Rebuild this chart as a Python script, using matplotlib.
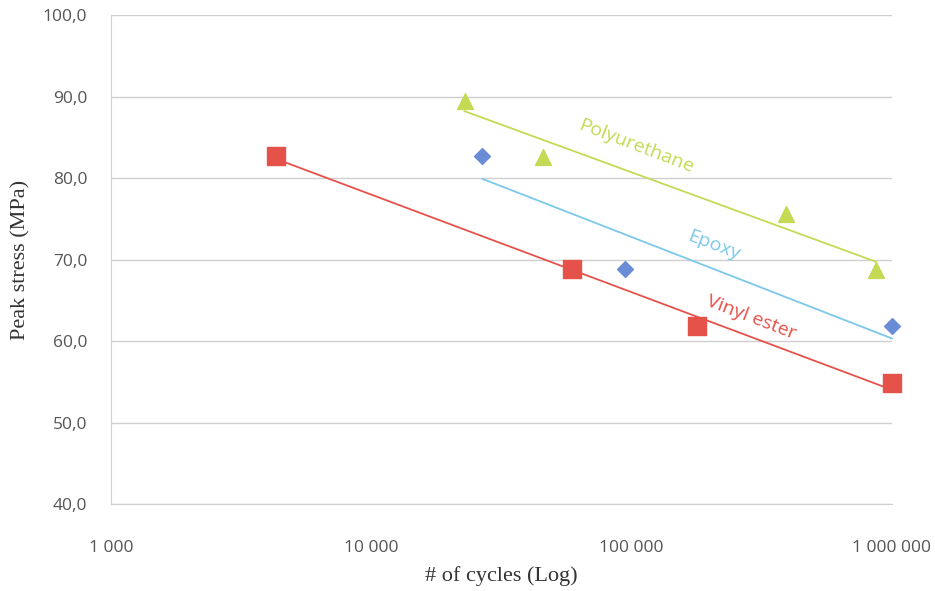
import numpy as np
import matplotlib
matplotlib.use("Agg")
import matplotlib.pyplot as plt
from matplotlib.ticker import FuncFormatter

# values
vinyl_cycles = [4300, 58800, 178000, 1000000]
vinyl_stress = [82.7, 68.8, 61.8, 54.8]

epoxy_cycles = [26700, 94000, 1000000]
epoxy_stress = [82.7, 68.8, 61.8]

pu_cycles = [22800, 45500, 391000, 867000]
pu_stress = [89.5, 82.6, 75.6, 68.7]

y_ticks = [40, 50, 60, 70, 80, 90, 100]
x_ticks = [1000, 10000, 100000, 1000000]

red = "#E5524A"
blue_marker = "#6A8BD6"
blue_line = "#7CC8EA"
green = "#C5D955"

fig = plt.figure(figsize=(9.35, 5.91), dpi=100)
ax = fig.add_axes([0.1187, 0.1472, 0.8353, 0.8274])


def trend(ax, xs, ys, color):
    lx = np.log10(xs)
    k, b = np.polyfit(lx, ys, 1)
    xx = np.array([min(xs), max(xs)])
    ax.plot(xx, k * np.log10(xx) + b, color=color, lw=1.3, zorder=2, clip_on=False)


trend(ax, vinyl_cycles, vinyl_stress, red)
trend(ax, epoxy_cycles, epoxy_stress, blue_line)
trend(ax, pu_cycles, pu_stress, green)

ax.scatter(vinyl_cycles, vinyl_stress, marker="s", s=150, color=red, zorder=3, clip_on=False)
ax.scatter(epoxy_cycles, epoxy_stress, marker="D", s=65, color=blue_marker, zorder=3, clip_on=False)
ax.scatter(pu_cycles, pu_stress, marker="^", s=130, color=green, zorder=3, clip_on=False)

ax.set_xscale("log")
ax.set_xlim(1000, 1000000)
ax.set_ylim(40, 100)
ax.set_xticks(x_ticks)
ax.minorticks_off()
ax.set_yticks(y_ticks)
ax.xaxis.set_major_formatter(FuncFormatter(lambda v, p: "{:,}".format(int(round(v))).replace(",", " ")))
ax.yaxis.set_major_formatter(FuncFormatter(lambda v, p: "{:.1f}".format(v).replace(".", ",")))

ax.grid(axis="y", color="#cfcfcf", lw=1)
ax.set_axisbelow(True)
for s in ["top", "right"]:
    ax.spines[s].set_visible(False)
ax.spines["left"].set_color("#d0d0d0")
ax.spines["bottom"].set_color("#cfcfcf")
ax.tick_params(axis="both", length=0, labelsize=12.5, colors="#555555")
ax.tick_params(axis="x", pad=26)
ax.tick_params(axis="y", pad=17)
for lab in ax.get_xticklabels() + ax.get_yticklabels():
    lab.set_family("Open Sans")

ax.set_xlabel("# of cycles (Log)", family="Liberation Serif", fontsize=16, color="#333333", labelpad=7)
ax.set_ylabel("Peak stress (MPa)", family="Liberation Serif", fontsize=16, color="#333333", labelpad=9)

ax.text(104500, 83.9, "Polyurethane", color=green, fontsize=14, rotation=-21,
        ha="center", va="center", family="Open Sans")
ax.text(206700, 71.7, "Epoxy", color=blue_line, fontsize=14, rotation=-21,
        ha="center", va="center", family="Open Sans")
ax.text(288600, 62.9, "Vinyl ester", color=red, fontsize=14, rotation=-21,
        ha="center", va="center", family="Open Sans")

fig.savefig("out.png", dpi=100)
